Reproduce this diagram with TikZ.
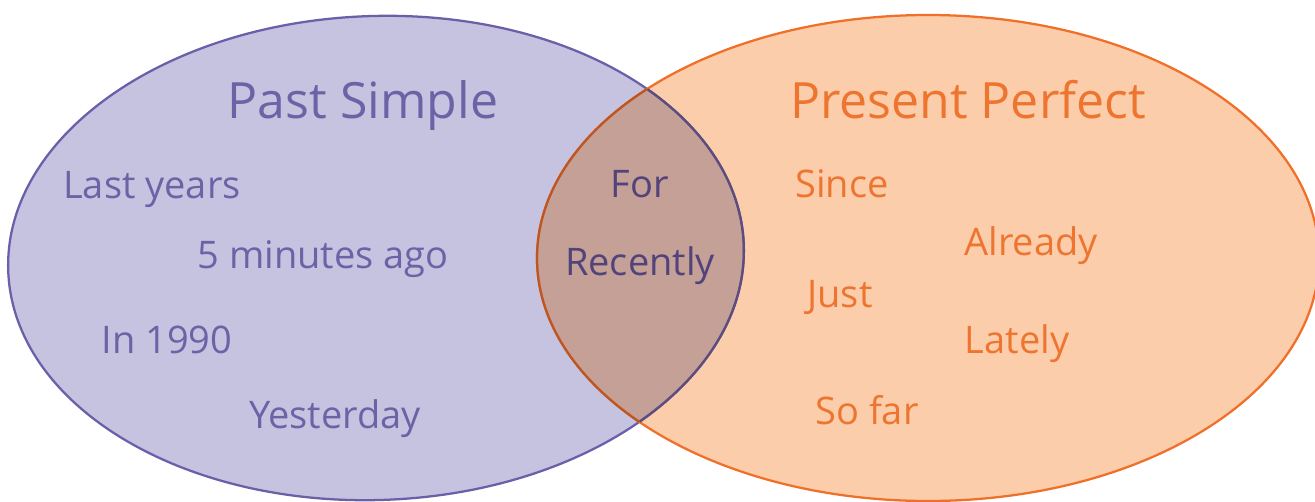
\documentclass[tikz,border=0pt]{standalone}
\usepackage{fontspec}
\setmainfont{Open Sans}
\definecolor{pfill}{HTML}{C5C3E0}
\definecolor{pline}{HTML}{6A5FA8}
\definecolor{ptext}{HTML}{6B63A6}
\definecolor{ofill}{HTML}{FBCDAA}
\definecolor{oline}{HTML}{F07029}
\definecolor{otext}{HTML}{EE7530}
\definecolor{ifill}{HTML}{C4A097}
\definecolor{iline1}{HTML}{5E4C7C}
\definecolor{iline2}{HTML}{BC5624}
\definecolor{itext}{HTML}{52437A}
\tikzset{
  titlep/.style={font=\fontsize{37.5}{44}\selectfont, text=ptext, anchor=base, inner sep=0pt},
  titleo/.style={font=\fontsize{37.5}{44}\selectfont, text=otext, anchor=base, inner sep=0pt},
  labp/.style={font=\fontsize{28.5}{34}\selectfont, text=ptext, anchor=base, inner sep=0pt},
  labo/.style={font=\fontsize{28.5}{34}\selectfont, text=otext, anchor=base, inner sep=0pt},
  labi/.style={font=\fontsize{28.5}{34}\selectfont, text=itext, anchor=base, inner sep=0pt},
  edge/.style={line width=1.7pt}
}
\def\leftshape{(376,258) ellipse [x radius=368, y radius=242, rotate=2]}
\def\rightshape{(928,258) ellipse [x radius=391, y radius=243]}
\begin{document}
\begin{tikzpicture}[x=0.75pt,y=-0.75pt]
\useasboundingbox (0,0) rectangle (1315,501);
\begin{scope}
\clip (0,0) rectangle (1315,501);
\fill[pfill] \leftshape;
\fill[ofill] \rightshape;
\begin{scope}
\clip \leftshape;
\fill[ifill] \rightshape;
\end{scope}
\draw[edge,pline] \leftshape;
\draw[edge,oline] \rightshape;
\begin{scope}
\clip \rightshape;
\draw[edge,iline1] \leftshape;
\end{scope}
\begin{scope}
\clip \leftshape;
\draw[edge,iline2] \rightshape;
\end{scope}
\end{scope}
\node[titlep] (ps) at (363,118) {Past Simple};
\node[titleo] (pp) at (968,118) {Present Perfect};
\node[labp] (ly) at (152,198) {Last years};
\node[labp] (fm) at (323,268) {5 minutes ago};
\node[labp] (in) at (167,353) {In 1990};
\node[labp] (ye) at (335,428) {Yesterday};
\node[labi] (fo) at (640,197) {For};
\node[labi] (re) at (640,275) {Recently};
\node[labo] (si) at (842,197) {Since};
\node[labo] (al) at (1031,255) {Already};
\node[labo] (ju) at (840,307) {Just};
\node[labo] (la) at (1017,353) {Lately};
\node[labo] (sf) at (867,424) {So far};
\end{tikzpicture}
\end{document}
